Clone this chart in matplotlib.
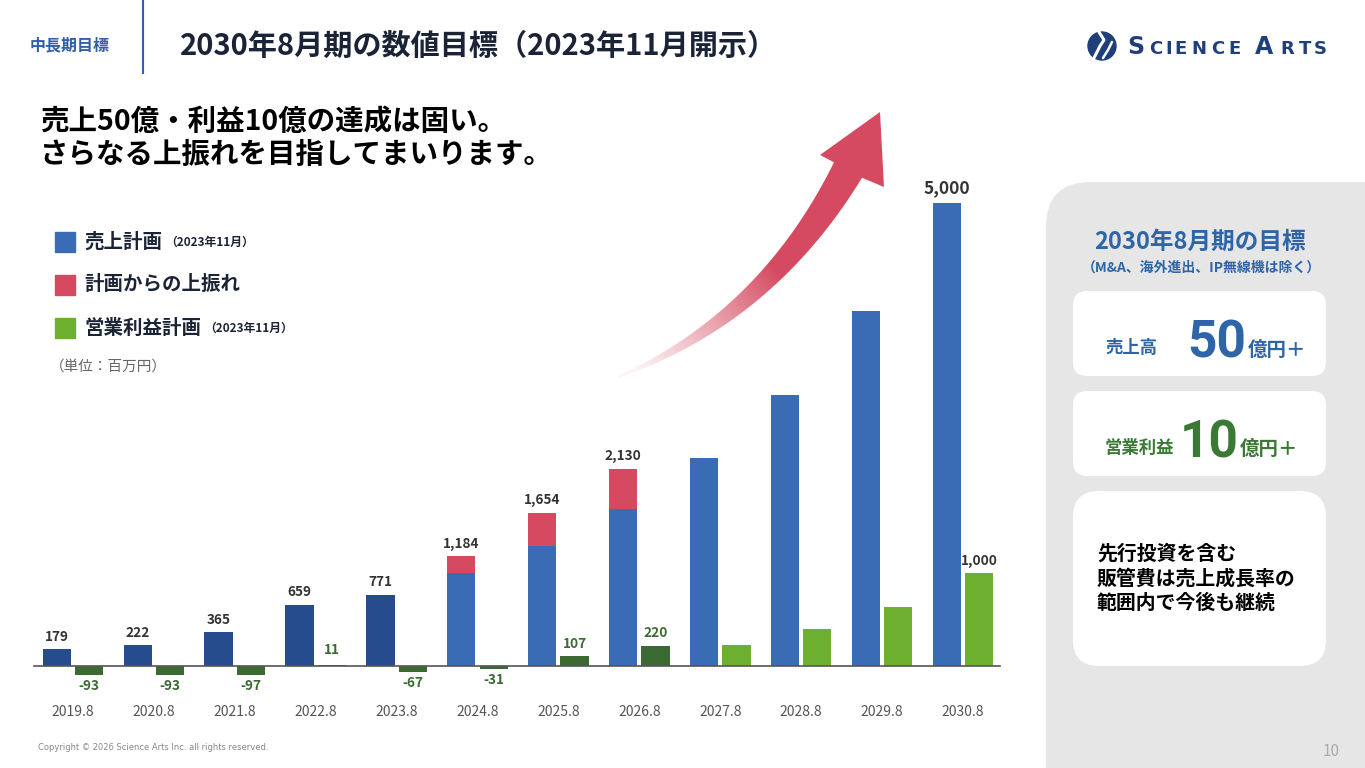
import numpy as np
import matplotlib
matplotlib.use("Agg")
import matplotlib.pyplot as plt
from matplotlib.patches import FancyBboxPatch, Polygon, Circle, Rectangle

plt.rcParams['font.family'] = ['Noto Sans CJK JP', 'DejaVu Sans']

# ---- data (百万円) ----
years = ['2019.8', '2020.8', '2021.8', '2022.8', '2023.8', '2024.8',
         '2025.8', '2026.8', '2027.8', '2028.8', '2029.8', '2030.8']
sales_actual = [179, 222, 365, 659, 771]                 # 2019.8 - 2023.8
sales_plan = [1000, 1300, 1700, 2250, 2930, 3830, 5000]  # 2024.8 - 2030.8
upside = [184, 354, 430]                                 # 2024.8 - 2026.8
sales_labels = ['179', '222', '365', '659', '771', '1,184', '1,654', '2,130',
                '', '', '', '5,000']
profit = [-93, -93, -97, 11, -67, -31, 107, 220, 230, 400, 640, 1000]
profit_labels = ['-93', '-93', '-97', '11', '-67', '-31', '107', '220',
                 '', '', '', '1,000']

NAVY = '#264C8D'
BLUE = '#3A6CB5'
RED = '#D54A60'
DKGREEN = '#3B6B33'
LTGREEN = '#6DB030'
TXT = '#333333'

W, H = 1365, 768
fig = plt.figure(figsize=(W / 100, H / 100), dpi=100)

# background / decoration layer in pixel coordinates
bg = fig.add_axes([0, 0, 1, 1], zorder=0)
bg.set_xlim(0, W)
bg.set_ylim(H, 0)
bg.axis('off')

# ---- header ----
bg.text(30, 45, '中長期目標', fontsize=11.5, color='#2E5FA8', weight='bold', va='center')
bg.plot([143, 143], [0, 73], color='#2E5FA8', lw=1.5)
bg.text(180, 46, '2030年8月期の数値目標（2023年11月開示）', fontsize=21, color='#1B2436',
        weight='bold', va='center')
bg.text(40, 122, '売上50億・利益10億の達成は固い。', fontsize=20.5, color='black',
        weight='bold', va='center')
bg.text(40, 155, 'さらなる上振れを目指してまいります。', fontsize=20.5, color='black',
        weight='bold', va='center')

# logo
bg.add_patch(Circle((1102, 46), 14, color='#1F3F7A'))
bg.plot([1094, 1100, 1104, 1099], [58, 46, 40, 32], color='white', lw=2.2, solid_capstyle='round')
bg.plot([1103, 1108, 1112], [58, 50, 42], color='white', lw=1.8, solid_capstyle='round')
letters = ['S', 'C', 'I', 'E', 'N', 'C', 'E', 'A', 'R', 'T', 'S']
letter_x = [1136, 1155.5, 1169, 1180.5, 1199, 1217.5, 1235, 1264, 1287, 1305, 1320]
for ch, lx, big in zip(letters, letter_x, [1, 0, 0, 0, 0, 0, 0, 1, 0, 0, 0]):
    bg.text(lx, 54, ch, fontsize=17 if big else 13, color='#1F3F7A', weight='bold',
            ha='center', va='baseline', family='DejaVu Sans')

# legend
legend_items = [(BLUE, '売上計画', '（2023年11月）', 242),
                (RED, '計画からの上振れ', '', 285),
                (LTGREEN, '営業利益計画', '（2023年11月）', 328)]
for col, lab, sub, y in legend_items:
    bg.add_patch(Rectangle((55, y - 10), 20, 20, color=col))
    t = bg.text(84, y, lab, fontsize=14, color='#1B2436', weight='bold', va='center')
    if sub:
        bg.annotate(sub, xy=(1, 0.5), xycoords=t, xytext=(2, 0), textcoords='offset points',
                    fontsize=8.5, color='#1B2436', weight='bold', va='center')
bg.text(50, 367, '（単位：百万円）', fontsize=10.5, color='#666666', va='center')

# copyright / page
bg.text(38, 748, 'Copyright © 2026 Science Arts Inc. all rights reserved.', fontsize=6,
        color='#888888', va='center', family='DejaVu Sans')
bg.text(1331, 751, '10', fontsize=11, color='#AAAAAA', va='center', ha='center')

# ---- right panel ----
bg.add_patch(FancyBboxPatch((1046, 182), 400, 700, boxstyle='round,pad=0,rounding_size=45',
                            facecolor='#E6E6E6', edgecolor='none'))
bg.text(1200, 242, '2030年8月期の目標', fontsize=17, color='#2E64A8', weight='bold',
        ha='center', va='center')
bg.text(1201, 268, '（M&A、海外進出、IP無線機は除く）', fontsize=10, color='#2E64A8',
        weight='bold', ha='center', va='center')
for y0, y1, r in [(291, 376, 14), (391, 476, 14), (491, 666, 26)]:
    bg.add_patch(FancyBboxPatch((1073, y0), 253, y1 - y0,
                                boxstyle='round,pad=0,rounding_size=%d' % r,
                                facecolor='white', edgecolor='none'))
big_font = ['Liberation Sans Narrow', 'Roboto', 'DejaVu Sans']
bg.text(1105, 348, '売上高', fontsize=12.5, color='#2E64A8', weight='bold', va='center')
bg.text(1187, 358, '50', fontsize=37, color='#2E64A8', weight='bold', va='baseline', family=big_font)
bg.text(1248, 350, '億円＋', fontsize=14, color='#2E64A8', weight='bold', va='center')
bg.text(1105, 448, '営業利益', fontsize=12.5, color='#3A7A35', weight='bold', va='center')
bg.text(1180, 458, '10', fontsize=37, color='#3A7A35', weight='bold', va='baseline', family=big_font)
bg.text(1240, 449, '億円＋', fontsize=14, color='#3A7A35', weight='bold', va='center')
for y, line in zip([553, 578, 602], ['先行投資を含む', '販管費は売上成長率の', '範囲内で今後も継続']):
    bg.text(1097, y, line, fontsize=14.3, color='black', weight='bold', va='center')

# ---- gradient arrow ----
P0, P1, P2 = np.array([618, 377.]), np.array([766.6, 317.6]), np.array([848, 170.])
t = np.linspace(0, 1, 80)[:, None]
B = (1 - t) ** 2 * P0 + 2 * (1 - t) * t * P1 + t ** 2 * P2
D = 2 * (1 - t) * (P1 - P0) + 2 * t * (P2 - P1)
Nrm = np.column_stack([-D[:, 1], D[:, 0]]) / np.linalg.norm(D, axis=1)[:, None]
wid = (2 + 30 * t) / 2
Lside = B + Nrm * wid
Rside = B - Nrm * wid
head = np.array([[884, 187], [880, 112], [820, 155]])
poly = np.vstack([Lside, head, Rside[::-1]])
clip = Polygon(poly, closed=True, facecolor='none', edgecolor='none')
bg.add_patch(clip)
gx0, gx1, gy0, gy1 = 600, 900, 95, 395
xx, yy = np.meshgrid(np.arange(gx0, gx1) + 0.5, np.arange(gy0, gy1) + 0.5)
dvec = np.array([232., -212.])
proj = ((xx - 618) * dvec[0] + (yy - 377) * dvec[1]) / (dvec @ dvec)
alpha = np.clip(proj / 0.6, 0, 1) ** 1.2
rgba = np.zeros(xx.shape + (4,))
rgba[..., :3] = matplotlib.colors.to_rgb(RED)
rgba[..., 3] = np.maximum(alpha, 0.06)
im = bg.imshow(rgba, extent=(gx0, gx1, gy1, gy0), origin='upper', interpolation='bilinear',
               zorder=2)
im.set_clip_path(clip)
bg.set_xlim(0, W)
bg.set_ylim(H, 0)

# ---- bar chart ----
px_x0, px_x1, px_y0, px_y1 = 34, 1000, 180, 730
ax = fig.add_axes([px_x0 / W, 1 - px_y1 / H, (px_x1 - px_x0) / W, (px_y1 - px_y0) / H], zorder=1)
ax.patch.set_alpha(0)
unit = 80.9
yscale = 463 / 5000
ax.set_xlim((px_x0 - 73) / unit, (px_x1 - 73) / unit)
ax.set_ylim(-(px_y1 - 666) / yscale, (666 - px_y0) / yscale)

x = np.arange(len(years))
bw, off = 0.35, 0.2
na = len(sales_actual)
ax.bar(x[:na] - off, sales_actual, bw, color=NAVY)
ax.bar(x[na:] - off, sales_plan, bw, color=BLUE)
ax.bar(x[na:na + len(upside)] - off, upside, bw, bottom=sales_plan[:len(upside)], color=RED)
pcol = [DKGREEN] * 8 + [LTGREEN] * 4
ax.bar(x + off, profit, bw, color=pcol)

sales_total = sales_actual + [p + u for p, u in zip(sales_plan, upside)] + sales_plan[len(upside):]
for i, (v, lab) in enumerate(zip(sales_total, sales_labels)):
    if lab:
        fs = 12.5 if v >= 5000 else 9.8
        ax.annotate(lab, (x[i] - off, v), xytext=(0, 4), textcoords='offset points',
                    ha='center', va='bottom', fontsize=fs, weight='bold', color=TXT)
for i, (v, lab) in enumerate(zip(profit, profit_labels)):
    if not lab:
        continue
    col = TXT if v >= 1000 else DKGREEN
    if v >= 0:
        ax.annotate(lab, (x[i] + off, v), xytext=(0, 4 if v > 20 else 6), textcoords='offset points',
                    ha='center', va='bottom', fontsize=9.8, weight='bold', color=col)
    else:
        ax.annotate(lab, (x[i] + off, v), xytext=(0, -3), textcoords='offset points',
                    ha='center', va='top', fontsize=9.8, weight='bold', color=col)

for s in ['top', 'right', 'left']:
    ax.spines[s].set_visible(False)
ax.spines['bottom'].set_position(('data', 0))
ax.spines['bottom'].set_color('#555555')
ax.spines['bottom'].set_linewidth(1.2)
ax.set_yticks([])
ax.set_xticks(x, years)
ax.tick_params(axis='x', length=0, pad=28, labelsize=10, labelcolor='#555555')

fig.savefig('out.png', dpi=100, facecolor='white')
